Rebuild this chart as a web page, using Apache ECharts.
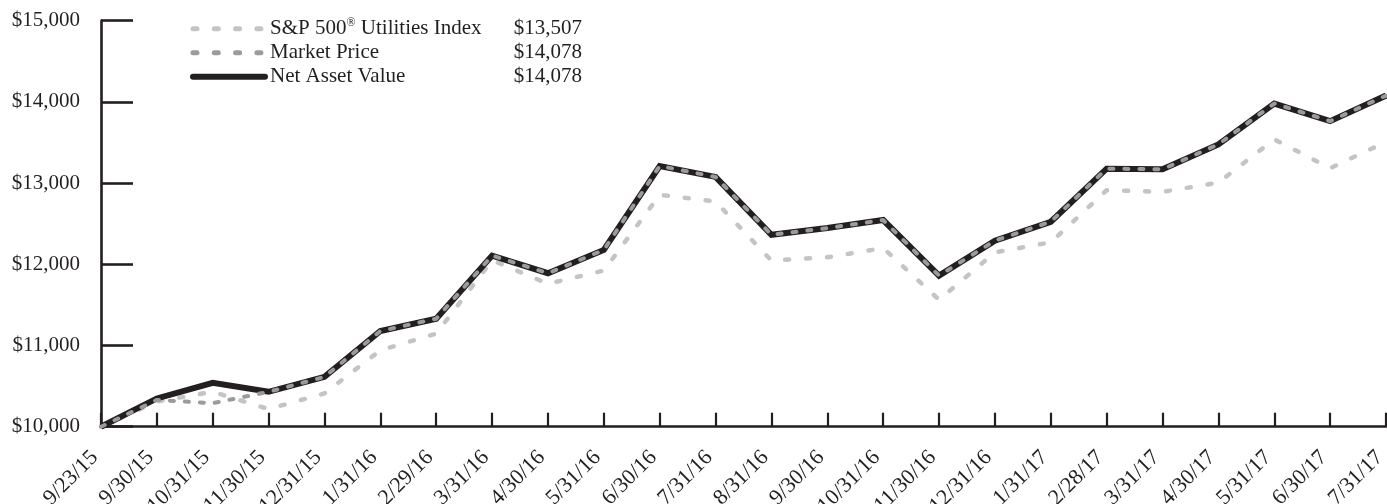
<!DOCTYPE html>
<html>
<head>
<meta charset="utf-8">
<script src="https://cdn.jsdelivr.net/npm/echarts@6/dist/echarts.min.js"></script>
<style>
  html, body { margin: 0; padding: 0; background: #fff; }
  #chart { width: 1387px; height: 504px; }
</style>
</head>
<body>
<div id="chart"></div>
<script>
// Growth of $10,000 investment, 9/23/15 through 7/31/17
const dates = ['9/23/15','9/30/15','10/31/15','11/30/15','12/31/15','1/31/16','2/29/16','3/31/16','4/30/16','5/31/16','6/30/16','7/31/16','8/31/16','9/30/16','10/31/16','11/30/16','12/31/16','1/31/17','2/28/17','3/31/17','4/30/17','5/31/17','6/30/17','7/31/17'];
const spUtilities   = [10000,10310,10430,10217,10410,10941,11146,12050,11760,11923,12855,12773,12045,12086,12200,11563,12147,12270,12912,12892,13006,13539,13183,13507];
const marketPrice   = [10000,10330,10290,10430,10614,11178,11330,12107,11890,12177,13211,13076,12364,12446,12545,11861,12291,12524,13178,13170,13477,13980,13763,14078];
const netAssetValue = [10000,10348,10540,10430,10614,11178,11330,12107,11890,12177,13211,13076,12364,12446,12545,11861,12291,12524,13178,13170,13477,13980,13763,14078];
const yTicks = [10000, 11000, 12000, 13000, 14000, 15000];

const SERIF = '"Liberation Serif", "Times New Roman", serif';
const INK = '#231f20';
const LIGHT = '#c3c4c6';
const MID = '#9b9b9d';

const money = v => '$' + Number(v).toLocaleString('en-US');
const lastValue = { 'S&P 500® Utilities Index': spUtilities[spUtilities.length - 1],
                    'Market Price': marketPrice[marketPrice.length - 1],
                    'Net Asset Value': netAssetValue[netAssetValue.length - 1] };

const chart = echarts.init(document.getElementById('chart'), null, { renderer: 'canvas' });

chart.setOption({
  animation: false,
  backgroundColor: '#fff',
  grid: { left: 101, right: 1, top: 20.7, bottom: 77.3, containLabel: false, outerBoundsMode: 'none' },
  legend: {
    orient: 'vertical',
    left: 185,
    top: 11.7,
    itemWidth: 72,
    itemHeight: 14,
    itemGap: 0,
    selectedMode: false,
    itemStyle: { opacity: 0 },
    data: [
      { name: 'S&P 500® Utilities Index', lineStyle: { color: LIGHT, width: 5, type: [4, 17.3], cap: 'round' } },
      { name: 'Market Price', lineStyle: { color: MID, width: 5, type: [4, 17.3], cap: 'round' } },
      { name: 'Net Asset Value', lineStyle: { color: INK, width: 6, type: 'solid', cap: 'round' } }
    ],
    formatter: name => {
      const label = name === 'S&P 500® Utilities Index'
        ? '{n|S&P 500}{r|®}{n| Utilities Index}'
        : '{n|' + name + '}';
      return label + '{v|' + money(lastValue[name]) + '}';
    },
    textStyle: {
      width: 312,
      fontFamily: SERIF,
      fontSize: 21,
      lineHeight: 24,
      color: INK,
      rich: {
        n: { fontFamily: SERIF, fontSize: 21, color: INK, lineHeight: 24 },
        r: { fontFamily: SERIF, fontSize: 12, color: INK, lineHeight: 24, verticalAlign: 'top', padding: [0, 0, 8, 0] },
        v: { fontFamily: SERIF, fontSize: 21, color: INK, lineHeight: 24, align: 'right' }
      }
    }
  },
  xAxis: {
    type: 'category',
    data: dates,
    boundaryGap: false,
    axisLine: { show: true, onZero: false, lineStyle: { color: INK, width: 2.6 } },
    axisTick: { show: true, inside: true, length: 14, interval: 0, lineStyle: { color: INK, width: 2.2 } },
    axisLabel: {
      interval: 0,
      rotate: 45,
      margin: 21,
      padding: [0, 9, 0, 0],
      fontFamily: SERIF,
      fontSize: 22,
      color: INK,
      hideOverlap: false
    },
    splitLine: { show: false }
  },
  yAxis: {
    type: 'value',
    min: yTicks[0],
    max: yTicks[yTicks.length - 1],
    interval: 1000,
    axisLine: { show: true, lineStyle: { color: INK, width: 2.6 } },
    axisTick: { show: true, inside: true, length: 32, lineStyle: { color: INK, width: 2.6 } },
    axisLabel: {
      margin: 21,
      fontFamily: SERIF,
      fontSize: 21,
      color: INK,
      formatter: v => money(v)
    },
    splitLine: { show: false }
  },
  series: [
    {
      name: 'S&P 500® Utilities Index',
      type: 'line',
      data: spUtilities,
      symbol: 'none',
      lineStyle: { color: LIGHT, width: 4.5, type: [4, 17], cap: 'round', join: 'round' },
      itemStyle: { color: LIGHT },
      z: 2
    },
    {
      name: 'Net Asset Value',
      type: 'line',
      data: netAssetValue,
      symbol: 'none',
      lineStyle: { color: INK, width: 6, type: 'solid', cap: 'butt', join: 'miter' },
      itemStyle: { color: INK },
      z: 3
    },
    {
      name: 'Market Price',
      type: 'line',
      data: marketPrice,
      symbol: 'none',
      lineStyle: { color: MID, width: 4, type: [4, 11], cap: 'round', join: 'round' },
      itemStyle: { color: MID },
      z: 4
    }
  ]
});
</script>
</body>
</html>
